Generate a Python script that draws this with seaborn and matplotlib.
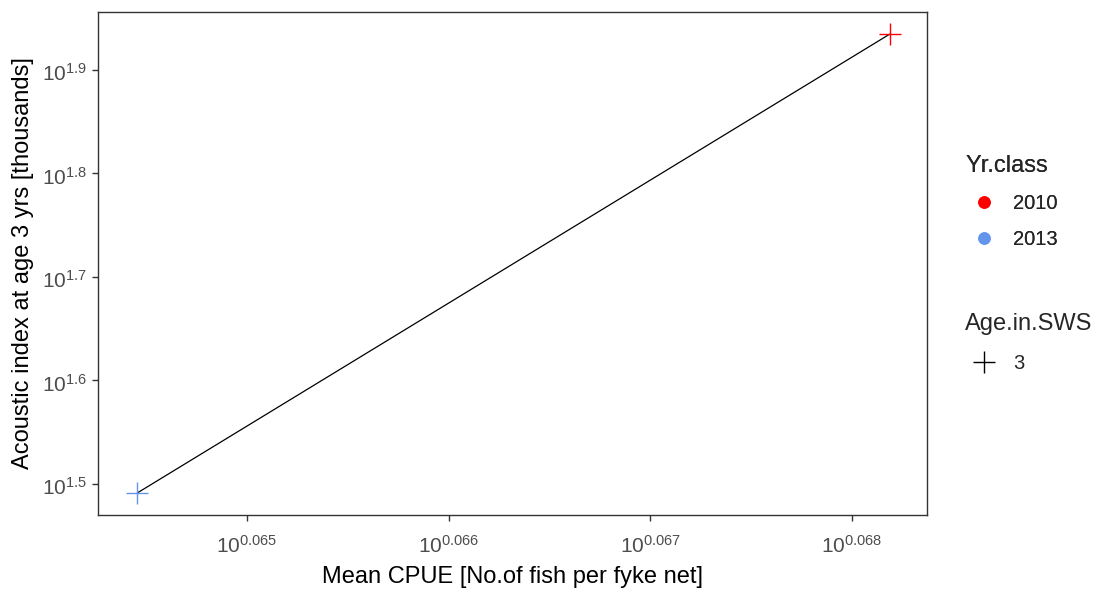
import matplotlib
matplotlib.use("Agg")
import matplotlib.pyplot as plt
import matplotlib.transforms as mtransforms
import seaborn as sns
import pandas as pd
from matplotlib.lines import Line2D
from matplotlib.ticker import FixedLocator, FuncFormatter, NullLocator

# Data
yr_class = ["2010", "2013"]
age_in_sws = ["3", "3"]
mean_cpue = [1.170, 1.160]
acoustic_index = [86.0, 31.0]
x_tick_exps = ["0.065", "0.066", "0.067", "0.068"]
y_tick_exps = ["1.5", "1.6", "1.7", "1.8", "1.9"]

colors = {"2010": "#FF0000", "2013": "#6495ED"}

df = pd.DataFrame({"Yr.class": yr_class, "Age.in.SWS": age_in_sws,
                   "cpue": mean_cpue, "acoustic": acoustic_index})

sns.set_theme(style="white")
plt.rcParams["font.family"] = ["Liberation Sans", "DejaVu Sans"]
plt.rcParams["mathtext.fontset"] = "custom"
plt.rcParams["mathtext.rm"] = "Liberation Sans"
plt.rcParams["mathtext.it"] = "Liberation Sans"
plt.rcParams["mathtext.default"] = "regular"

fig = plt.figure(figsize=(11.04, 5.90), dpi=100)
ax = fig.add_axes([0.089, 0.1271, 0.7504, 0.8526])

sns.lineplot(data=df.sort_values("cpue"), x="cpue", y="acoustic", color="black",
             linewidth=0.9, ax=ax, legend=False, sort=True)
for yc in yr_class:
    sub = df[df["Yr.class"] == yc]
    ax.plot(sub["cpue"], sub["acoustic"], linestyle="none", marker="+",
            markersize=16, markeredgewidth=1.0, color=colors[yc], zorder=5)

ax.set_xscale("log")
ax.set_yscale("log")
ax.set_xlim(10 ** 0.064264, 10 ** 0.06837)
ax.set_ylim(10 ** 1.470, 10 ** 1.956)

ax.xaxis.set_major_locator(FixedLocator([10 ** float(e) for e in x_tick_exps]))
ax.yaxis.set_major_locator(FixedLocator([10 ** float(e) for e in y_tick_exps]))
ax.xaxis.set_minor_locator(NullLocator())
ax.yaxis.set_minor_locator(NullLocator())
ax.xaxis.set_major_formatter(FuncFormatter(
    lambda v, p: r"$10^{%s}$" % x_tick_exps[p] if p is not None and p < len(x_tick_exps) else ""))
ax.yaxis.set_major_formatter(FuncFormatter(
    lambda v, p: r"$10^{%s}$" % y_tick_exps[p] if p is not None and p < len(y_tick_exps) else ""))

ax.tick_params(axis="both", which="major", length=4.5, width=1, color="#333333",
               labelcolor="#4D4D4D", labelsize=15, direction="out",
               bottom=True, left=True)
ax.tick_params(axis="x", pad=9.5)
ax.tick_params(axis="y", pad=3.5)
offset = mtransforms.ScaledTranslation(0, -4 / 100, fig.dpi_scale_trans)
for t in ax.yaxis.get_major_ticks():
    t.label1.set_verticalalignment("center")
    t.label1.set_transform(t.label1.get_transform() + offset)
for s in ax.spines.values():
    s.set_color("#333333")
    s.set_linewidth(1.0)

ax.set_xlabel("Mean CPUE [No.of fish per fyke net]", fontsize=17, color="black", labelpad=7)
ax.set_ylabel("Acoustic index at age 3 yrs [thousands]", fontsize=17, color="black", labelpad=6)

fs = 14.5
h1 = [Line2D([], [], linestyle="none", marker="o", markersize=8, color=colors[c]) for c in yr_class]
leg1 = fig.legend(h1, yr_class, title="Yr.class", loc="upper left",
                  bbox_to_anchor=(965 / 1104, 1 - 155 / 590), frameon=False,
                  fontsize=fs, title_fontsize=17, handlelength=1.9, handletextpad=0.5,
                  labelspacing=0.85, borderpad=0, borderaxespad=0, alignment="left")
h2 = [Line2D([], [], linestyle="none", marker="+", markersize=16, markeredgewidth=1.0, color="black")]
leg2 = fig.legend(h2, ["3"], title="Age.in.SWS", loc="upper left",
                  bbox_to_anchor=(965 / 1104, 1 - 313 / 590), frameon=False,
                  fontsize=fs, title_fontsize=17, handlelength=1.9, handletextpad=0.5,
                  labelspacing=0.95, borderpad=0, borderaxespad=0, alignment="left")
fig.add_artist(leg1)

fig.savefig("out.png", dpi=100)
